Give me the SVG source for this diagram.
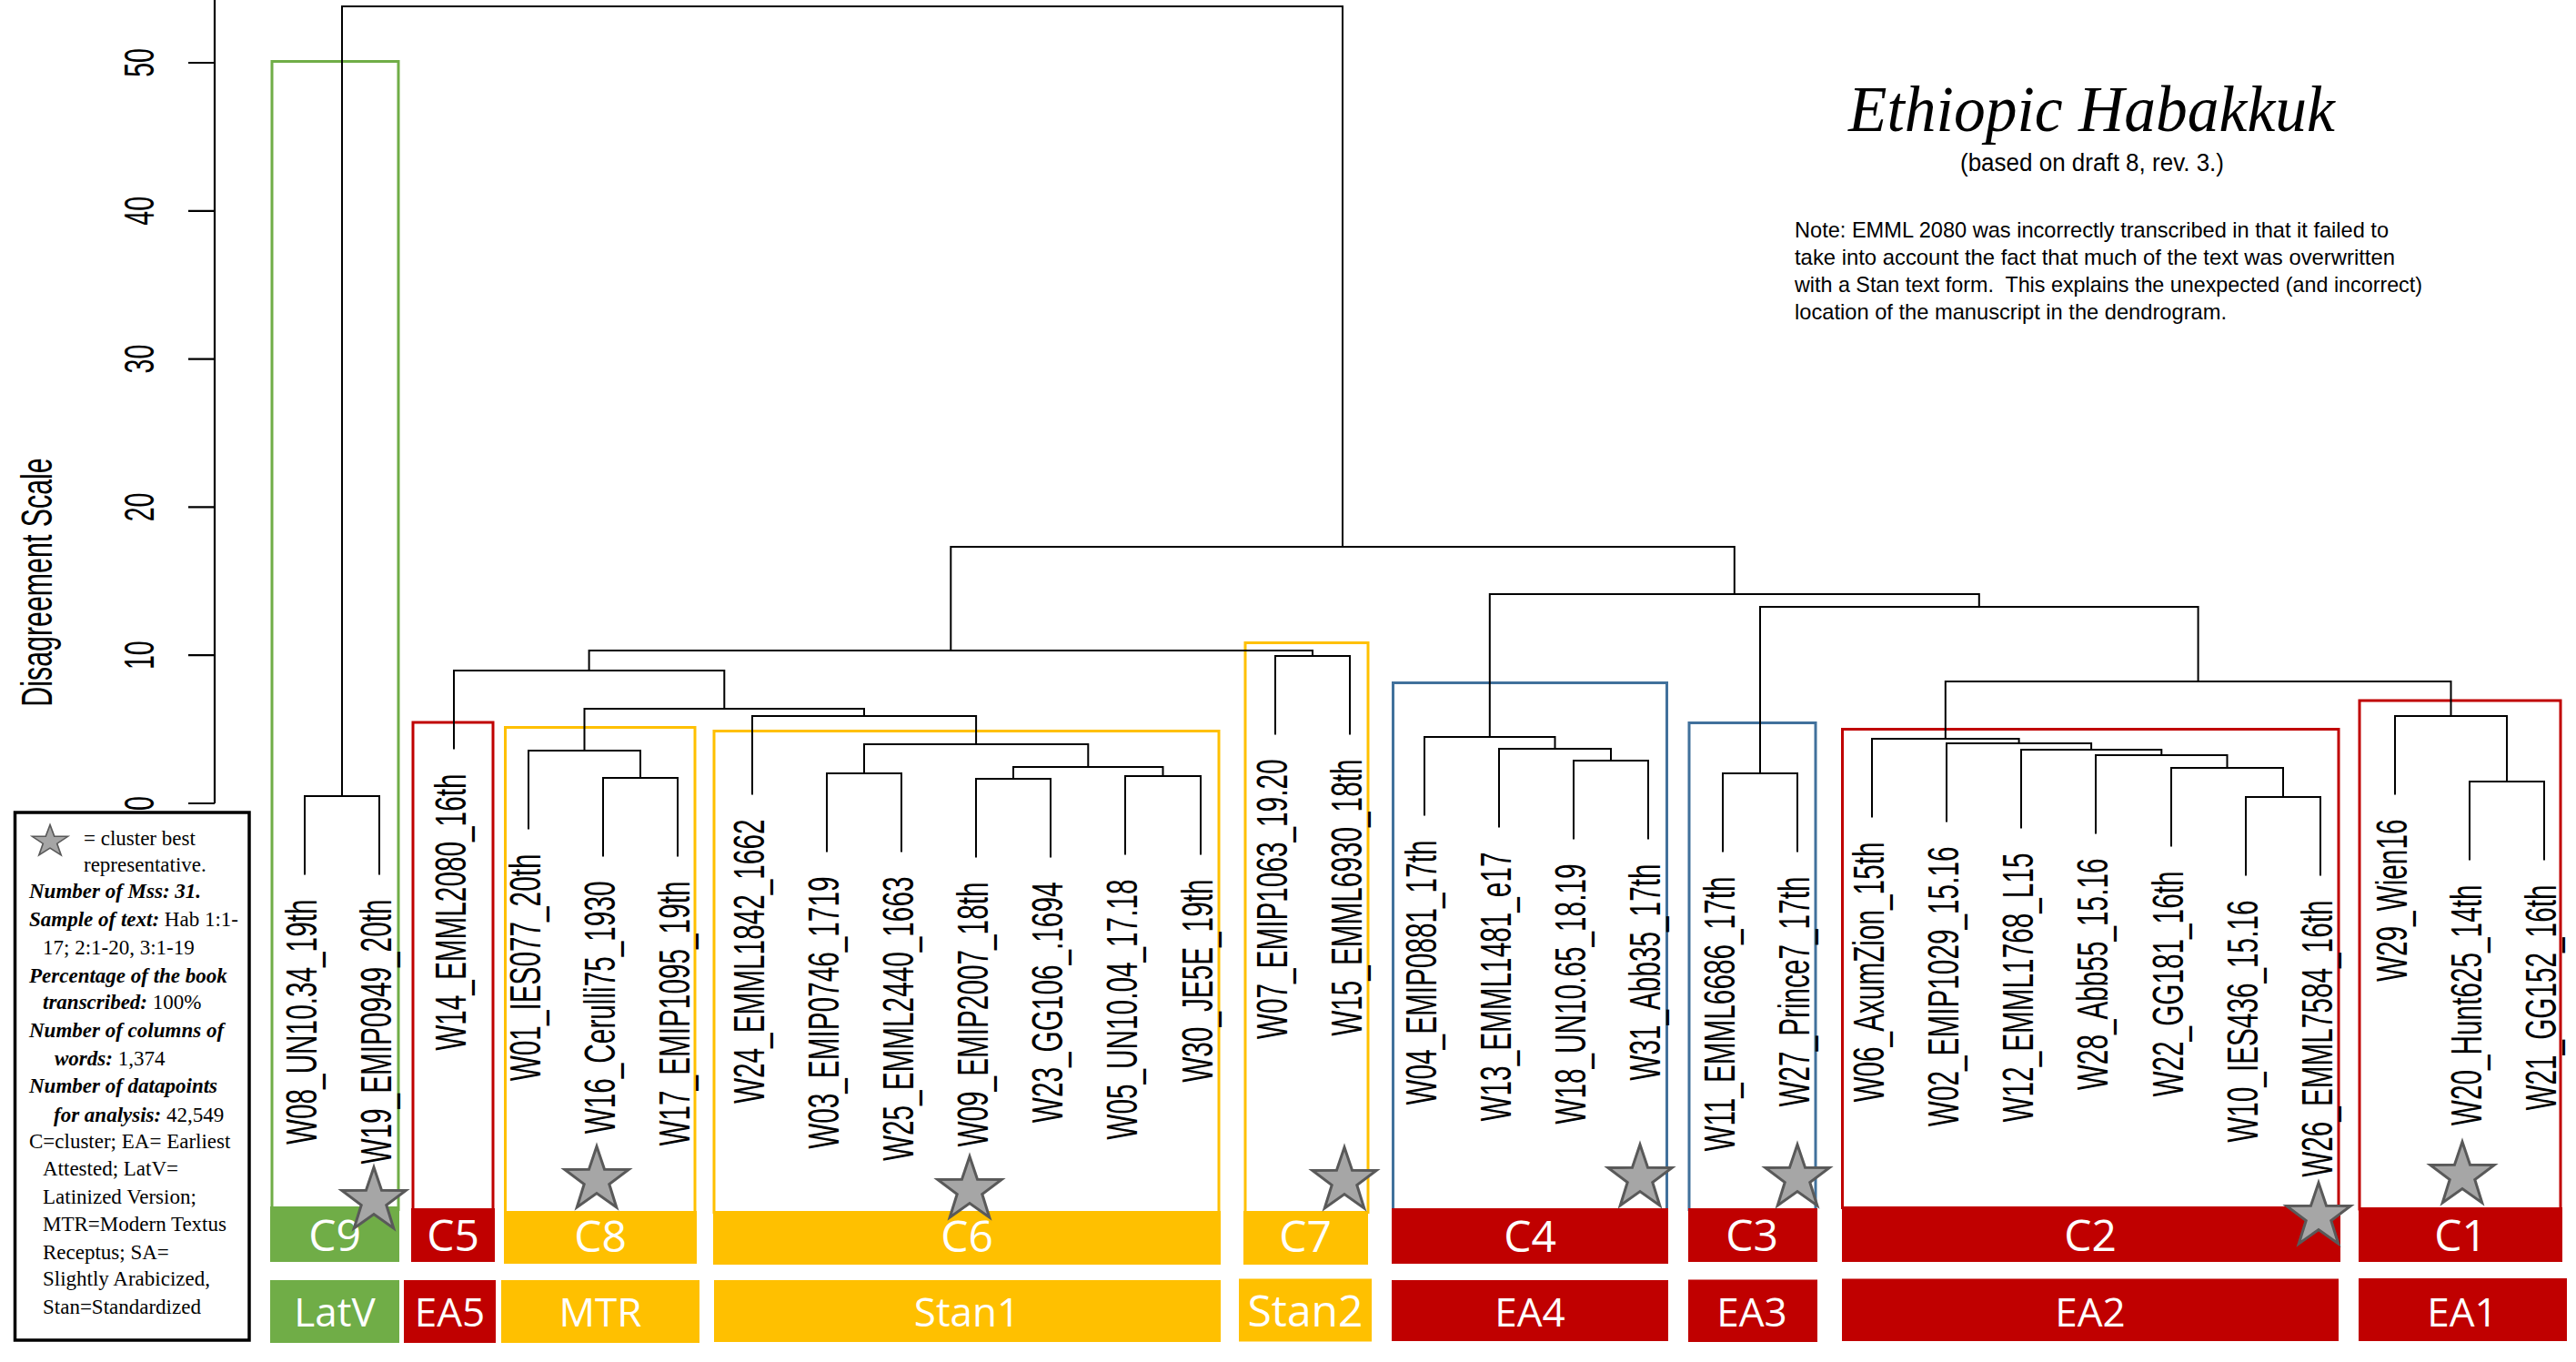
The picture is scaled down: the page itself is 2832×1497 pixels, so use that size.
<svg xmlns="http://www.w3.org/2000/svg" width="2832" height="1497" viewBox="0 0 2832 1497">
<style>
.lbl{font-family:'Liberation Sans',Arial,sans-serif;font-size:48px;text-anchor:end;fill:#000}
.tick{font-family:'Liberation Sans',Arial,sans-serif;font-size:46px;text-anchor:middle;fill:#000}
.dend{fill:none;stroke:#000;stroke-width:2}
.axis{fill:none;stroke:#000;stroke-width:2.2}
.box{fill:none;stroke-width:3}
.g{stroke:#70AD47}.r{stroke:#C00000}.y{stroke:#FFC000}.b{stroke:#41719C}
.fg{fill:#70AD47}.fr{fill:#C00000}.fy{fill:#FFC000}
.ct{font-family:'Open Sans','Noto Sans',sans-serif;font-size:48px;fill:#fff;text-anchor:middle}
.et{font-family:'Open Sans','Noto Sans',sans-serif;font-size:44px;fill:#fff;text-anchor:middle}
.star{fill:#A6A6A6;stroke:#595959;stroke-width:3;stroke-linejoin:miter}
.leg{font-family:'Liberation Serif','Times New Roman',serif;font-size:23px;fill:#000}
.bi{font-weight:bold;font-style:italic}
.note{font-family:'Liberation Sans',Arial,sans-serif;font-size:24px;fill:#000}
</style>
<defs>
<polygon id="star" points="0,-37 8.52,-11.73 35.19,-11.43 13.79,4.48 21.75,29.93 0,14.5 -21.75,29.93 -13.79,4.48 -35.19,-11.43 -8.52,-11.73"/>
</defs>
<rect width="2832" height="1497" fill="#fff"/>

<g id="axis">
<path class="axis" d="M236 0 V883 M207 883 H236 M207 720.2 H236 M207 557.4 H236 M207 394.6 H236 M207 231.8 H236 M207 69 H236"/>
<text class="tick" transform="translate(169,883) rotate(-90) scale(0.62,1)">0</text>
<text class="tick" transform="translate(169,720.2) rotate(-90) scale(0.62,1)">10</text>
<text class="tick" transform="translate(169,557.4) rotate(-90) scale(0.62,1)">20</text>
<text class="tick" transform="translate(169,394.6) rotate(-90) scale(0.62,1)">30</text>
<text class="tick" transform="translate(169,231.8) rotate(-90) scale(0.62,1)">40</text>
<text class="tick" transform="translate(169,69) rotate(-90) scale(0.62,1)">50</text>
<text class="tick" transform="translate(57,640) rotate(-90) scale(0.62,1)" style="font-size:49px">Disagreement Scale</text>
</g>

<g id="cluster-boxes">
<rect class="box g" x="299" y="67.5" width="139" height="1262"/>
<rect class="box r" x="454" y="794" width="88" height="536"/>
<rect class="box y" x="555.5" y="799.5" width="208.5" height="533"/>
<rect class="box y" x="785" y="803.5" width="555" height="529"/>
<rect class="box y" x="1369" y="706.5" width="135" height="626"/>
<rect class="box b" x="1531.5" y="750.5" width="301" height="579"/>
<rect class="box b" x="1857" y="794.5" width="139" height="535"/>
<rect class="box r" x="2025.5" y="801.5" width="545.5" height="526"/>
<rect class="box r" x="2594" y="770" width="221" height="559"/>
</g>

<g id="connectors">
<path class="dend" d="M335 961.5 V875 H417 V961.5"/>
<path class="dend" d="M663 941.5 V855 H745 V941.5"/>
<path class="dend" d="M581 911.5 V825 H704 V855"/>
<path class="dend" d="M909 936.5 V850 H991 V936.5"/>
<path class="dend" d="M1073 942.5 V856 H1155 V942.5"/>
<path class="dend" d="M1237 939.5 V853 H1320 V939.5"/>
<path class="dend" d="M1114 856 V843 H1278.5 V853"/>
<path class="dend" d="M950 850 V818 H1196.3 V843"/>
<path class="dend" d="M827 873.5 V787 H1073.1 V818"/>
<path class="dend" d="M642.5 825 V779 H950 V787"/>
<path class="dend" d="M499 823.5 V737 H796.3 V779"/>
<path class="dend" d="M1402 807.5 V721 H1484 V807.5"/>
<path class="dend" d="M647.6 737 V715 H1443 V721"/>
<path class="dend" d="M1730 922.5 V836 H1812 V922.5"/>
<path class="dend" d="M1648 909.5 V823 H1771 V836"/>
<path class="dend" d="M1566 896.5 V810 H1709.5 V823"/>
<path class="dend" d="M1894 936.5 V850 H1976 V936.5"/>
<path class="dend" d="M2469 962.5 V876 H2551 V962.5"/>
<path class="dend" d="M2387 930.5 V844 H2510 V876"/>
<path class="dend" d="M2304 916.5 V830 H2448.5 V844"/>
<path class="dend" d="M2222 910.5 V824 H2376.3 V830"/>
<path class="dend" d="M2140 903.5 V817 H2299.1 V824"/>
<path class="dend" d="M2058 898.5 V812 H2219.6 V817"/>
<path class="dend" d="M2715 945.5 V859 H2797 V945.5"/>
<path class="dend" d="M2633 873.5 V787 H2756 V859"/>
<path class="dend" d="M2138.8 812 V749 H2694.5 V787"/>
<path class="dend" d="M1935 850 V667 H2416.6 V749"/>
<path class="dend" d="M1637.8 810 V653 H2175.8 V667"/>
<path class="dend" d="M1045.3 715 V601 H1906.8 V653"/>
<path class="dend" d="M376 875 V7 H1476 V601"/>
</g>

<g id="leaves">
<g id="W08"><text class="lbl" transform="translate(348,988.5) rotate(-90) scale(0.62,1)">W08_UN10.34_19th</text></g>
<g id="W19"><text class="lbl" transform="translate(430,988.5) rotate(-90) scale(0.62,1)">W19_EMIP0949_20th</text></g>
<g id="W14"><text class="lbl" transform="translate(512,850.5) rotate(-90) scale(0.62,1)">W14_EMML2080_16th</text></g>
<g id="W01"><text class="lbl" transform="translate(594,938.5) rotate(-90) scale(0.62,1)">W01_IES077_20th</text></g>
<g id="W16"><text class="lbl" transform="translate(676,968.5) rotate(-90) scale(0.62,1)">W16_Cerulli75_1930</text></g>
<g id="W17"><text class="lbl" transform="translate(758,968.5) rotate(-90) scale(0.62,1)">W17_EMIP1095_19th</text></g>
<g id="W24"><text class="lbl" transform="translate(840,900.5) rotate(-90) scale(0.62,1)">W24_EMML1842_1662</text></g>
<g id="W03"><text class="lbl" transform="translate(922,963.5) rotate(-90) scale(0.62,1)">W03_EMIP0746_1719</text></g>
<g id="W25"><text class="lbl" transform="translate(1004,963.5) rotate(-90) scale(0.62,1)">W25_EMML2440_1663</text></g>
<g id="W09"><text class="lbl" transform="translate(1086,969.5) rotate(-90) scale(0.62,1)">W09_EMIP2007_18th</text></g>
<g id="W23"><text class="lbl" transform="translate(1168,969.5) rotate(-90) scale(0.62,1)">W23_GG106_.1694</text></g>
<g id="W05"><text class="lbl" transform="translate(1250,966.5) rotate(-90) scale(0.62,1)">W05_UN10.04_17.18</text></g>
<g id="W30"><text class="lbl" transform="translate(1333,966.5) rotate(-90) scale(0.62,1)">W30_JE5E_19th</text></g>
<g id="W07"><text class="lbl" transform="translate(1415,834.5) rotate(-90) scale(0.62,1)">W07_EMIP1063_19.20</text></g>
<g id="W15"><text class="lbl" transform="translate(1497,834.5) rotate(-90) scale(0.62,1)">W15_EMML6930_18th</text></g>
<g id="W04"><text class="lbl" transform="translate(1579,923.5) rotate(-90) scale(0.62,1)">W04_EMIP0881_17th</text></g>
<g id="W13"><text class="lbl" transform="translate(1661,936.5) rotate(-90) scale(0.62,1)">W13_EMML1481_e17</text></g>
<g id="W18"><text class="lbl" transform="translate(1743,949.5) rotate(-90) scale(0.62,1)">W18_UN10.65_18.19</text></g>
<g id="W31"><text class="lbl" transform="translate(1825,949.5) rotate(-90) scale(0.62,1)">W31_Abb35_17th</text></g>
<g id="W11"><text class="lbl" transform="translate(1907,963.5) rotate(-90) scale(0.62,1)">W11_EMML6686_17th</text></g>
<g id="W27"><text class="lbl" transform="translate(1989,963.5) rotate(-90) scale(0.62,1)">W27_Prince7_17th</text></g>
<g id="W06"><text class="lbl" transform="translate(2071,925.5) rotate(-90) scale(0.62,1)">W06_AxumZion_15th</text></g>
<g id="W02"><text class="lbl" transform="translate(2153,930.5) rotate(-90) scale(0.62,1)">W02_EMIP1029_15.16</text></g>
<g id="W12"><text class="lbl" transform="translate(2235,937.5) rotate(-90) scale(0.62,1)">W12_EMML1768_L15</text></g>
<g id="W28"><text class="lbl" transform="translate(2317,943.5) rotate(-90) scale(0.62,1)">W28_Abb55_15.16</text></g>
<g id="W22"><text class="lbl" transform="translate(2400,957.5) rotate(-90) scale(0.62,1)">W22_GG181_16th</text></g>
<g id="W10"><text class="lbl" transform="translate(2482,989.5) rotate(-90) scale(0.62,1)">W10_IES436_15.16</text></g>
<g id="W26"><text class="lbl" transform="translate(2564,989.5) rotate(-90) scale(0.62,1)">W26_EMML7584_16th</text></g>
<g id="W29"><text class="lbl" transform="translate(2646,900.5) rotate(-90) scale(0.62,1)">W29_Wien16</text></g>
<g id="W20"><text class="lbl" transform="translate(2728,972.5) rotate(-90) scale(0.62,1)">W20_Hunt625_14th</text></g>
<g id="W21"><text class="lbl" transform="translate(2810,972.5) rotate(-90) scale(0.62,1)">W21_GG152_16th</text></g>
</g>

<g id="cluster-bars">
<g id="C9"><rect class="fg" x="297" y="1326" width="142" height="61"/><text class="ct" x="368" y="1375">C9</text></g>
<g id="C5"><rect class="fr" x="452" y="1328" width="92" height="59"/><text class="ct" x="498" y="1375">C5</text></g>
<g id="C8"><rect class="fy" x="554" y="1331" width="212" height="58"/><text class="ct" x="660" y="1376">C8</text></g>
<g id="C6"><rect class="fy" x="784" y="1331" width="558" height="59"/><text class="ct" x="1063" y="1376">C6</text></g>
<g id="C7"><rect class="fy" x="1367" y="1331" width="137" height="59"/><text class="ct" x="1435" y="1376">C7</text></g>
<g id="C4"><rect class="fr" x="1530" y="1328" width="304" height="61"/><text class="ct" x="1682" y="1376">C4</text></g>
<g id="C3"><rect class="fr" x="1856" y="1328" width="142" height="59"/><text class="ct" x="1926" y="1375">C3</text></g>
<g id="C2"><rect class="fr" x="2025" y="1326" width="548" height="61"/><text class="ct" x="2298" y="1375">C2</text></g>
<g id="C1"><rect class="fr" x="2593" y="1327" width="224" height="60"/><text class="ct" x="2705" y="1375">C1</text></g>
</g>

<g id="group-bars">
<g id="LatV"><rect class="fg" x="297" y="1407" width="142" height="69"/><text class="et" x="368" y="1458">LatV</text></g>
<g id="EA5"><rect class="fr" x="444" y="1407" width="101" height="69"/><text class="et" x="494.5" y="1458">EA5</text></g>
<g id="MTR"><rect class="fy" x="551" y="1407" width="218" height="69"/><text class="et" x="660" y="1458">MTR</text></g>
<g id="Stan1"><rect class="fy" x="785" y="1407" width="557" height="68"/><text class="et" x="1063" y="1458">Stan1</text></g>
<g id="Stan2"><rect class="fy" x="1362" y="1405.5" width="146" height="69"/><text class="et" x="1435" y="1458" style="font-size:48px">Stan2</text></g>
<g id="EA4"><rect class="fr" x="1530" y="1407" width="304" height="67"/><text class="et" x="1682" y="1458">EA4</text></g>
<g id="EA3"><rect class="fr" x="1856" y="1406.5" width="142" height="68.5"/><text class="et" x="1926" y="1458">EA3</text></g>
<g id="EA2"><rect class="fr" x="2025" y="1405.5" width="546" height="68.5"/><text class="et" x="2298" y="1458">EA2</text></g>
<g id="EA1"><rect class="fr" x="2593" y="1405" width="229" height="69"/><text class="et" x="2707" y="1458">EA1</text></g>
</g>

<g id="stars">
<use href="#star" class="star" x="411" y="1320"/>
<use href="#star" class="star" x="656" y="1297"/>
<use href="#star" class="star" x="1066" y="1308"/>
<use href="#star" class="star" x="1478" y="1298"/>
<use href="#star" class="star" x="1803" y="1295"/>
<use href="#star" class="star" x="1976" y="1295"/>
<use href="#star" class="star" x="2549" y="1337"/>
<use href="#star" class="star" x="2707" y="1292"/>
</g>

<g id="legend">
<rect x="16.5" y="893" width="257.5" height="580" fill="#fff" stroke="#000" stroke-width="3.5"/>
<g transform="translate(55,925) scale(0.56,0.5)"><use href="#star" class="star"/></g>
<text class="leg" x="92" y="929">= cluster best</text>
<text class="leg" x="92" y="958">representative.</text>
<text class="leg bi" x="32" y="987">Number of Mss: 31.</text>
<text class="leg" x="32" y="1018"><tspan class="bi">Sample  of text:</tspan> Hab 1:1-</text>
<text class="leg" x="47" y="1049">17; 2:1-20, 3:1-19</text>
<text class="leg bi" x="32" y="1080">Percentage of the book</text>
<text class="leg" x="47" y="1109"><tspan class="bi">transcribed:</tspan> 100%</text>
<text class="leg bi" x="32" y="1140">Number of columns of</text>
<text class="leg" x="60" y="1171"><tspan class="bi">words:</tspan> 1,374</text>
<text class="leg bi" x="32" y="1201">Number of datapoints</text>
<text class="leg" x="59" y="1233"><tspan class="bi">for analysis:</tspan> 42,549</text>
<text class="leg" x="32" y="1262">C=cluster; EA= Earliest</text>
<text class="leg" x="47" y="1292">Attested; LatV=</text>
<text class="leg" x="47" y="1323">Latinized Version;</text>
<text class="leg" x="47" y="1353">MTR=Modern Textus</text>
<text class="leg" x="47" y="1384">Receptus;  SA=</text>
<text class="leg" x="47" y="1413">Slightly Arabicized,</text>
<text class="leg" x="47" y="1444">Stan=Standardized</text>
</g>

<g id="title">
<text x="2032" y="144" font-family="'Liberation Serif','Times New Roman',serif" font-style="italic" font-size="72" textLength="535" lengthAdjust="spacingAndGlyphs">Ethiopic Habakkuk</text>
<text x="2155" y="188" font-family="'Liberation Sans',Arial,sans-serif" font-size="27" textLength="290" lengthAdjust="spacingAndGlyphs">(based on draft 8, rev. 3.)</text>
</g>

<g id="note">
<text class="note" x="1973" y="261" textLength="653" lengthAdjust="spacingAndGlyphs">Note: EMML 2080 was incorrectly transcribed in that it failed to</text>
<text class="note" x="1973" y="291" textLength="660" lengthAdjust="spacingAndGlyphs">take into account the fact that much of the text was overwritten</text>
<text class="note" x="1973" y="321" textLength="690" lengthAdjust="spacingAndGlyphs" xml:space="preserve">with a Stan text form.  This explains the unexpected (and incorrect)</text>
<text class="note" x="1973" y="351" textLength="475" lengthAdjust="spacingAndGlyphs">location of the manuscript in the dendrogram.</text>
</g>
</svg>
